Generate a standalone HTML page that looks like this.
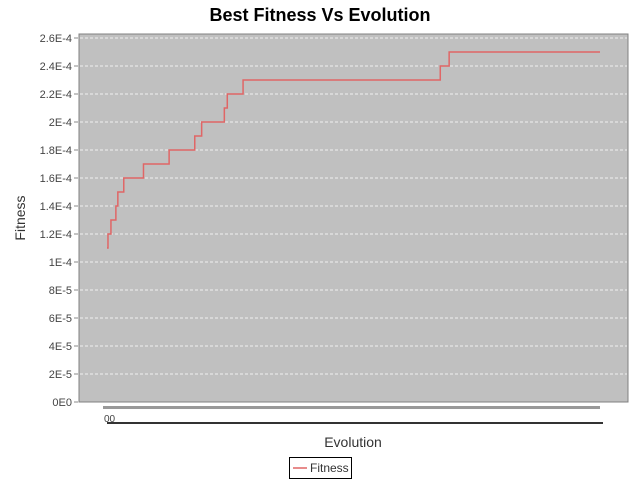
<!DOCTYPE html>
<html><head><meta charset="utf-8"><style>
body{margin:0;background:#fff;font-family:"Liberation Sans","DejaVu Sans",sans-serif}
</style></head><body>
<svg width="640" height="480" xmlns="http://www.w3.org/2000/svg">
<text x="320" y="21" text-anchor="middle" font-size="18" font-weight="bold" fill="#000">Best Fitness Vs Evolution</text>
<rect x="79" y="34" width="549" height="368" fill="#c0c0c0" stroke="#808080"/>
<g id="grid"></g>
<g id="yaxis" font-size="11" fill="#444"></g>
<text transform="translate(25,218) rotate(-90)" text-anchor="middle" font-size="14" fill="#333">Fitness</text>
<rect x="103" y="406" width="497" height="3" fill="#999"/>
<line x1="107" y1="423" x2="603" y2="423" stroke="#333" stroke-width="2"/>
<text x="104" y="422" font-size="10" fill="#444">00</text>
<text x="353" y="447" text-anchor="middle" font-size="14" fill="#333">Evolution</text>
<g>
<rect x="289.5" y="457.5" width="62" height="21" fill="#fff" stroke="#000"/>
<line x1="293" y1="468" x2="307" y2="468" stroke="#e06666" stroke-width="1.5"/>
<text x="310" y="472" font-size="12" fill="#333">Fitness</text>
</g>
<path id="line" fill="none" stroke="#e06666" stroke-width="1.5"/>
</svg>
<script>
const generations=[0,1,4,9,11,17,37,63,89,96,119,122,138,338,347,500];
const fitness=[1.1e-4,1.2e-4,1.3e-4,1.4e-4,1.5e-4,1.6e-4,1.7e-4,1.8e-4,1.9e-4,2.0e-4,2.1e-4,2.2e-4,2.3e-4,2.4e-4,2.5e-4,2.5e-4];
const yTicks=[0,2e-5,4e-5,6e-5,8e-5,1e-4,1.2e-4,1.4e-4,1.6e-4,1.8e-4,2e-4,2.2e-4,2.4e-4,2.6e-4];
const yTickLabels=["0E0","2E-5","4E-5","6E-5","8E-5","1E-4","1.2E-4","1.4E-4","1.6E-4","1.8E-4","2E-4","2.2E-4","2.4E-4","2.6E-4"];
const NS="http://www.w3.org/2000/svg";
const xs=g=>107+g*(493/500);
const ys=v=>402-v*(364/2.6e-4);
const grid=document.getElementById('grid'),ya=document.getElementById('yaxis');
yTicks.forEach((t,i)=>{
 const y=ys(t);
 if(i>0){const l=document.createElementNS(NS,'line');
 
 
 l.setAttribute('x1',80);l.setAttribute('x2',627);l.setAttribute('y1',y);l.setAttribute('y2',y);
 l.setAttribute('stroke','#fff');l.setAttribute('stroke-dasharray','3,2');l.setAttribute('stroke-width','0.8');grid.appendChild(l);}
 const tk=document.createElementNS(NS,'line');
 
 
 tk.setAttribute('x1',74);tk.setAttribute('x2',78);tk.setAttribute('y1',y);tk.setAttribute('y2',y);tk.setAttribute('stroke','#888');ya.appendChild(tk);
 const tx=document.createElementNS(NS,'text');
 
 
 tx.setAttribute('x',72);tx.setAttribute('y',y+4);tx.setAttribute('text-anchor','end');tx.textContent=yTickLabels[i];ya.appendChild(tx);
});
let d='';
generations.forEach((g,i)=>{
 const x=xs(g),y=ys(fitness[i]);
 if(i===0)d+='M'+x+','+y;else d+='H'+x+'V'+y;
});
document.getElementById('line').setAttribute('d',d);
</script>
</body></html>
